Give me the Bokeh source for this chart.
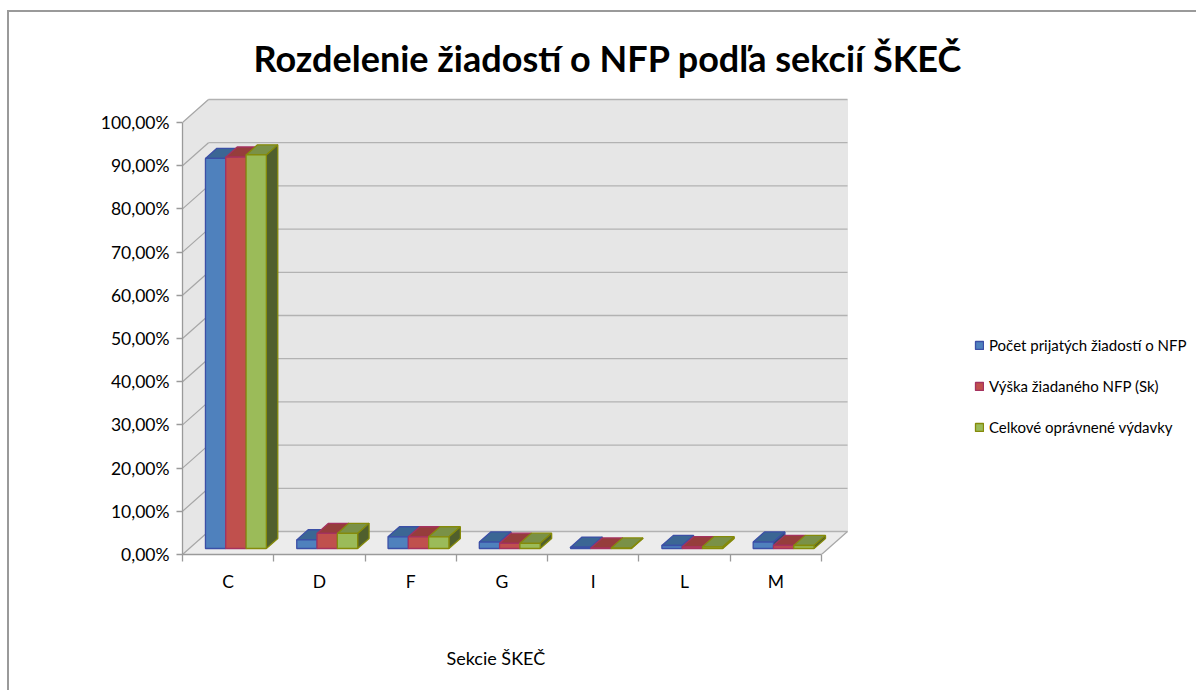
from bokeh.plotting import figure
from bokeh.models import (Range1d, LinearAxis, FixedTicker, Legend, LegendItem, Title)
from bokeh.embed import file_html
from bokeh.resources import INLINE

# ---- data -----
categories = ["C", "D", "F", "G", "I", "L", "M"]
pocet = [90.3, 2.0, 2.7, 1.5, 0.3, 0.7, 1.5]
vyska = [90.6, 3.5, 2.7, 1.2, 0.1, 0.4, 0.7]
celkove = [91.1, 3.5, 2.7, 1.2, 0.1, 0.4, 0.7]
series_names = ["Počet prijatých žiadostí o NFP", "Výška žiadaného NFP (Sk)", "Celkové oprávnené výdavky"]
y_ticks = [0, 10, 20, 30, 40, 50, 60, 70, 80, 90, 100]
y_tick_labels = ["0,00%", "10,00%", "20,00%", "30,00%", "40,00%", "50,00%", "60,00%", "70,00%", "80,00%", "90,00%", "100,00%"]
title_text = "Rozdelenie žiadostí o NFP podľa sekcií ŠKEČ"
x_title = "Sekcie ŠKEČ"

# ---- styling / projection -----
FONT = "Lato"
FACE = ["#4f81bd", "#c0504d", "#9bbb59"]
TOP = ["#3b6694", "#963d3c", "#7a9147"]
SIDE = ["#2f4d70", "#6f2d2c", "#505f2d"]
EDGE = ["#3b4fa6", "#a5325f", "#858a0a"]
CAT_PX = 91.3
PCT_PX = 4.32
DX = 26 / CAT_PX        # full floor depth, x part (category units)
DY = 23 / PCT_PX        # full floor depth, y part (percent units)
BAR_FRONT = 0.26        # fraction of depth where the bar front sits
BAR_DEPTH = 0.44
BAR_W = 20.3 / CAT_PX
BAR_GAP = 16.2 / CAT_PX
n = len(categories)

x_end = n + 28 / CAT_PX
y_end = 100 + 25 / PCT_PX

p = figure(width=1187, height=678, output_backend="svg", toolbar_location=None,
           x_range=Range1d(0, x_end), y_range=Range1d(0, y_end),
           x_axis_type=None, y_axis_type=None,
           frame_width=667, frame_height=457,
           min_border_left=173, min_border_right=0, min_border_top=85, min_border_bottom=0,
           outline_line_color=None, background_fill_color="white", border_fill_color="white",
           styles={"margin-left": "7px", "margin-top": "10px", "box-sizing": "content-box",
                   "border-top": "2px solid #9a9a9a", "border-left": "2px solid #9a9a9a"})
p.grid.visible = False

# walls and floor
WALL = "#e6e6e6"
p.patch([0, DX, DX, 0], [0, DY, 100 + DY, 100], fill_color=WALL, line_color=WALL, line_width=1)
p.patch([DX, n + DX, n + DX, DX], [DY, DY, 100 + DY, 100 + DY], fill_color=WALL, line_color=WALL, line_width=1)
p.patch([0, n, n + DX, DX], [0, 0, DY, DY], fill_color="#ececec", line_color=None)

GRID = "#b2b2b2"
p.segment([DX] * len(y_ticks), [v + DY for v in y_ticks], [n + DX] * len(y_ticks), [v + DY for v in y_ticks],
          line_color=GRID, line_width=1.3)
p.segment([0] * len(y_ticks), y_ticks, [DX] * len(y_ticks), [v + DY for v in y_ticks],
          line_color="#a6a6a6", line_width=1.2)
p.segment([n], [0], [n + DX], [DY], line_color="#a6a6a6", line_width=1.2)

# bars
fx, fy = BAR_FRONT * DX, BAR_FRONT * DY
bx, by = BAR_DEPTH * DX, BAR_DEPTH * DY
legend_items = []
for s, vals in enumerate([pocet, vyska, celkove]):
    lefts = [i + BAR_GAP + s * BAR_W + fx for i in range(n)]
    rights = [l + BAR_W for l in lefts]
    tops = [v + fy for v in vals]
    top_xs = [[l, r, r + bx, l + bx] for l, r in zip(lefts, rights)]
    top_ys = [[t, t, t + by, t + by] for t in tops]
    side_xs = [[r, r + bx, r + bx, r] for r in rights]
    side_ys = [[fy, fy + by, t + by, t] for t in tops]
    p.patches(top_xs, top_ys, fill_color=TOP[s], line_color=EDGE[s], line_width=1.3)
    p.patches(side_xs, side_ys, fill_color=SIDE[s], line_color=EDGE[s], line_width=1.3)
    r = p.quad(left=lefts, right=rights, bottom=[fy] * n, top=tops,
               fill_color=FACE[s], line_color=EDGE[s], line_width=1.3)
    legend_items.append(LegendItem(label=series_names[s], renderers=[r]))

# axes
yax = LinearAxis(ticker=FixedTicker(ticks=y_ticks), bounds=(0, 100),
                 major_label_overrides=dict(zip(y_ticks, y_tick_labels)),
                 axis_line_color="#9a9a9a", axis_line_width=1.3,
                 major_tick_line_color="#9a9a9a", major_tick_line_width=1.3,
                 major_tick_out=6, major_tick_in=0, minor_tick_out=0, minor_tick_in=0,
                 major_label_text_font=FONT, major_label_text_font_size="17.5px",
                 major_label_text_color="#000000", major_label_standoff=7)
p.add_layout(yax, "left")

centers = [i + 0.5 for i in range(n)]
edges = list(range(n + 1))
xax = LinearAxis(ticker=FixedTicker(ticks=centers, minor_ticks=edges), bounds=(0, n),
                 major_label_overrides=dict(zip(centers, categories)),
                 axis_line_color="#9a9a9a", axis_line_width=1.3,
                 major_tick_line_color=None, major_tick_out=0, major_tick_in=0,
                 minor_tick_line_color="#9a9a9a", minor_tick_line_width=1.3, minor_tick_out=7, minor_tick_in=0,
                 major_label_text_font=FONT, major_label_text_font_size="17.5px",
                 major_label_text_color="#000000", major_label_standoff=9)
p.add_layout(xax, "below")

# axis title, placed to sit under the category axis rather than under the frame centre
p.add_layout(Title(text=x_title, text_font=FONT, text_font_size="18px", text_font_style="normal",
                   text_color="#000000", align="left", offset=264, standoff=100), "below")

# title
p.add_layout(Title(text=title_text, text_font=FONT, text_font_size="36px", text_font_style="bold",
                   text_color="#000000", align="left", offset=71, standoff=35), "above")

# legend
leg = Legend(items=legend_items, location=(125, 118), orientation="vertical",
             border_line_color=None, background_fill_alpha=0,
             label_text_font=FONT, label_text_font_size="15px", label_text_color="#000000",
             glyph_width=10, glyph_height=10, label_standoff=5, spacing=23, padding=0, margin=0)
p.add_layout(leg, "right")

open("out.html", "w").write(file_html(p, INLINE))
